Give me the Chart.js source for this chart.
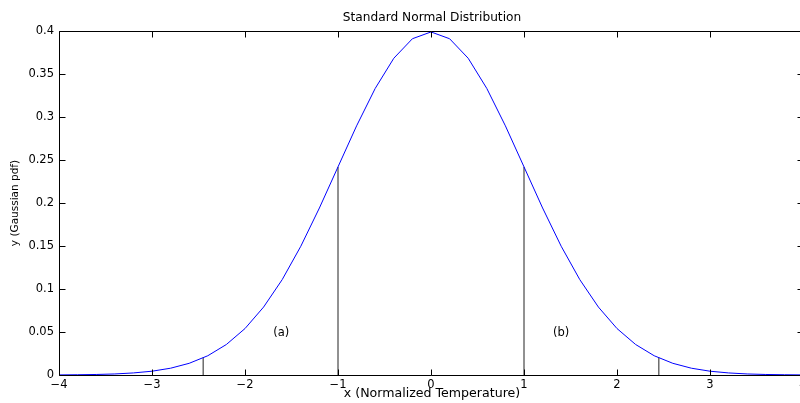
<!DOCTYPE html>
<html>
<head>
<meta charset="utf-8">
<script src="https://cdn.jsdelivr.net/npm/chart.js@4/dist/chart.umd.min.js"></script>
<style>
  html, body { margin: 0; padding: 0; background: #fff; overflow: hidden; }
  #wrap { width: 820px; height: 403px; }
</style>
</head>
<body>
<div id="wrap"><canvas id="c" width="820" height="403"></canvas></div>
<script>
// ---- data ----
const xValues = [-4.0,-3.8,-3.6,-3.4,-3.2,-3.0,-2.8,-2.6,-2.4,-2.2,-2.0,-1.8,-1.6,-1.4,-1.2,-1.0,-0.8,-0.6,-0.4,-0.2,
                 0.0,0.2,0.4,0.6,0.8,1.0,1.2,1.4,1.6,1.8,2.0,2.2,2.4,2.6,2.8,3.0,3.2,3.4,3.6,3.8,4.0];
const yValues = [0.0001,0.0003,0.0006,0.0012,0.0024,0.0044,0.0079,0.0136,0.0224,0.0355,0.0540,0.0790,0.1109,0.1497,0.1942,0.2420,0.2897,0.3332,0.3683,0.3910,
                 0.3989,0.3910,0.3683,0.3332,0.2897,0.2420,0.1942,0.1497,0.1109,0.0790,0.0540,0.0355,0.0224,0.0136,0.0079,0.0044,0.0024,0.0012,0.0006,0.0003,0.0001];
const markerX = [-2.45, -1, 1, 2.45];
const markerY = [0.0202, 0.242, 0.242, 0.0202];
const xTicks = [-4, -3, -2, -1, 0, 1, 2, 3, 4];
const xTickLabels = ["\u22124", "\u22123", "\u22122", "\u22121", "0", "1", "2", "3", "4"];
const yTicks = [0, 0.05, 0.1, 0.15, 0.2, 0.25, 0.3, 0.35, 0.4];
const yTickLabels = ["0", "0.05", "0.1", "0.15", "0.2", "0.25", "0.3", "0.35", "0.4"];
const noteLabels = ["(a)", "(b)"];
const noteX = [-1.61, 1.4];
const noteY = [0.049, 0.049];
const titleText = "Standard Normal Distribution";
const xTitle = "x (Normalized Temperature)";
const yTitle = "y (Gaussian pdf)";

const FONT = "DejaVu Sans";

const datasets = [{
  data: xValues.map((x, i) => ({ x: x, y: yValues[i] })),
  showLine: true, borderColor: "#0000ff", borderWidth: 1, pointRadius: 0, tension: 0
}];
markerX.forEach((x, i) => {
  datasets.push({
    data: [{ x: x, y: 0 }, { x: x, y: markerY[i] }],
    showLine: true, borderColor: "#222222", borderWidth: 1, pointRadius: 0
  });
});

const frame = {
  id: "frame",
  afterDraw(chart) {
    const ctx = chart.ctx;
    const a = chart.chartArea;
    const xs = chart.scales.x, ys = chart.scales.y;
    ctx.save();
    ctx.strokeStyle = "#000";
    ctx.lineWidth = 1;
    const L = Math.round(a.left) + 0.5, R = Math.round(a.right) + 0.5;
    const T = Math.round(a.top) + 0.5, B = Math.round(a.bottom) + 0.5;
    ctx.beginPath();
    ctx.rect(L, T, R - L, B - T);
    ctx.stroke();
    const tl = 6;
    ctx.beginPath();
    xTicks.forEach(v => {
      const px = Math.round(xs.getPixelForValue(v)) + 0.5;
      ctx.moveTo(px, B); ctx.lineTo(px, B - tl);
      ctx.moveTo(px, T); ctx.lineTo(px, T + tl);
    });
    yTicks.forEach(v => {
      const py = Math.round(ys.getPixelForValue(v)) + 0.5;
      ctx.moveTo(L, py); ctx.lineTo(L + tl, py);
      ctx.moveTo(R, py); ctx.lineTo(R - tl, py);
    });
    ctx.stroke();

    ctx.fillStyle = "#000";
    ctx.textAlign = "center";
    ctx.textBaseline = "middle";
    const cx = xs.getPixelForValue(0);
    ctx.font = "12.2px '" + FONT + "'";
    ctx.fillText(titleText, cx + 1, 18);
    ctx.font = "12.6px '" + FONT + "'";
    ctx.fillText(xTitle, cx + 1, 394);
    ctx.font = "11.5px '" + FONT + "'";
    noteLabels.forEach((t, i) => {
      ctx.fillText(t, xs.getPixelForValue(noteX[i]), ys.getPixelForValue(noteY[i]));
    });
    ctx.font = "10.5px '" + FONT + "'";
    ctx.translate(15, (a.top + a.bottom) / 2);
    ctx.rotate(-Math.PI / 2);
    ctx.fillText(yTitle, 0, 0);
    ctx.restore();
  }
};

new Chart(document.getElementById("c"), {
  type: "scatter",
  data: { datasets: datasets },
  options: {
    responsive: false,
    animation: false,
    events: [],
    layout: { padding: { top: 31, right: 17, left: 0, bottom: 0 } },
    plugins: { legend: { display: false }, tooltip: { enabled: false }, title: { display: false } },
    scales: {
      x: {
        type: "linear", min: -4, max: 4,
        afterFit: s => { s.height = 28; },
        afterBuildTicks: s => { s.ticks = xTicks.map(v => ({ value: v })); },
        grid: { display: false, drawTicks: false }, border: { display: false },
        ticks: {
          color: "#000", padding: 3, maxRotation: 0, autoSkip: false,
          font: { family: FONT, size: 11.5 },
          callback: (v) => { const i = xTicks.indexOf(v); return i >= 0 ? xTickLabels[i] : ""; }
        }
      },
      y: {
        type: "linear", min: 0, max: 0.4,
        afterFit: s => { s.width = 59; },
        afterBuildTicks: s => { s.ticks = yTicks.map(v => ({ value: v })); },
        grid: { display: false, drawTicks: false }, border: { display: false },
        ticks: {
          color: "#000", padding: 5, autoSkip: false,
          font: { family: FONT, size: 11.5 },
          callback: (v) => { const i = yTicks.findIndex(t => Math.abs(t - v) < 1e-9); return i >= 0 ? yTickLabels[i] : ""; }
        }
      }
    }
  },
  plugins: [frame]
});
</script>
</body>
</html>
